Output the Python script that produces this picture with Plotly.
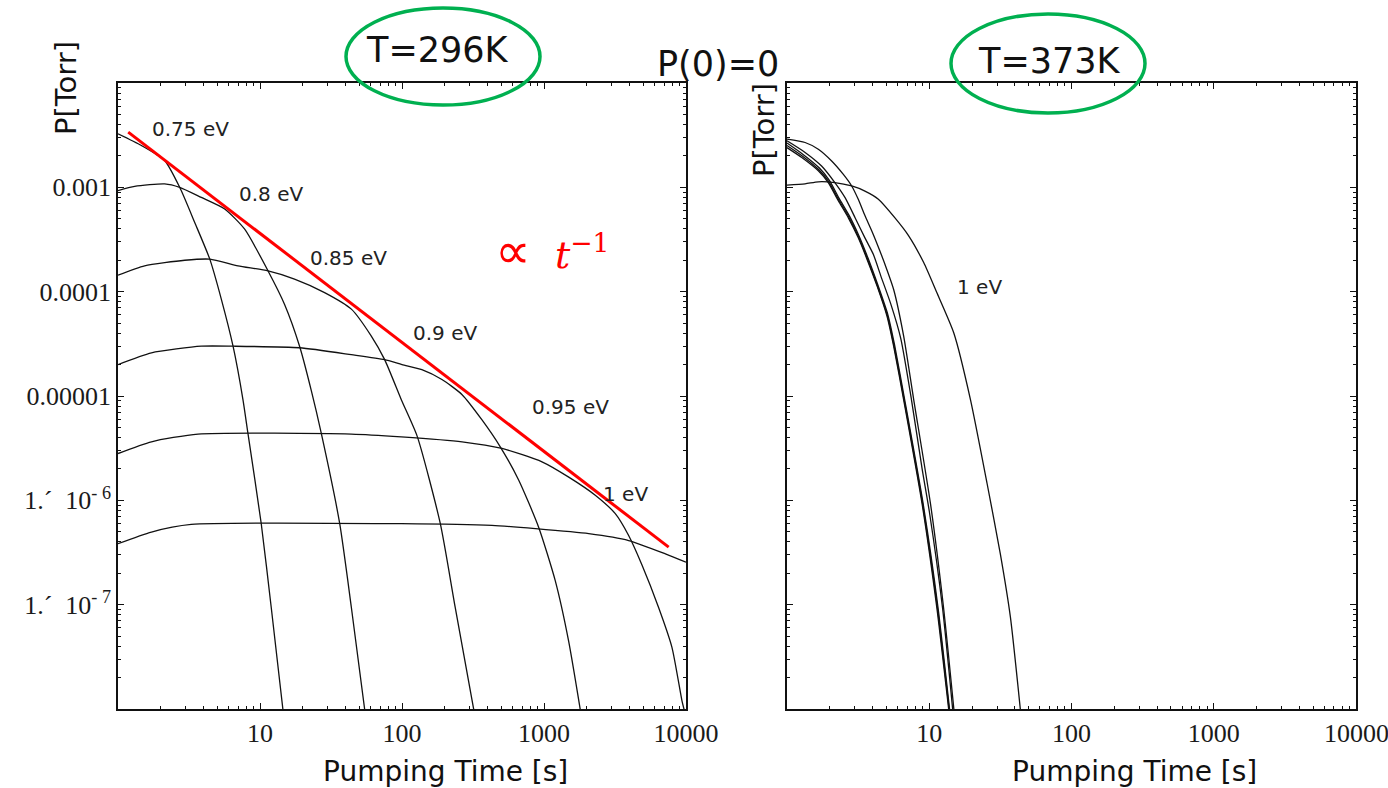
import numpy as np
import plotly.graph_objects as go

# ---------------- T = 296 K : pressure vs pumping time ----------------
t296_075 = [1.0, 1.46, 2.13, 2.72, 3.47, 4.43, 5.35, 6.46, 7.59, 8.22, 10.2, 12.0, 14.5]
p296_075 = [3.26e-3, 2.52e-3, 1.81e-3, 1.0e-3, 4.6e-4, 2.05e-4, 8.4e-5, 3.0e-5, 9.2e-6, 4.4e-6, 6.0e-7, 9.4e-8, 9.9e-9]

t296_080 = [1.0, 1.31, 2.13, 2.72, 3.86, 5.64, 7.80, 11.4, 14.9, 19.0, 23.0, 27.0, 36.4, 44.0, 54.6]
p296_080 = [9.3e-4, 1.02e-3, 1.08e-3, 1.0e-3, 8.0e-4, 6.2e-4, 3.97e-4, 1.58e-4, 7.55e-5, 3.0e-5, 1.12e-5, 4.4e-6, 6.0e-7, 9.4e-8, 9.9e-9]

t296_085 = [1.0, 1.54, 2.95, 4.43, 7.0, 11.4, 17.5, 28.5, 44.0, 60.8, 75.5, 98.9, 128, 186, 237, 320]
p296_085 = [1.44e-4, 1.77e-4, 2.0e-4, 2.05e-4, 1.77e-4, 1.58e-4, 1.32e-4, 9.8e-5, 6.8e-5, 3.75e-5, 2.23e-5, 9.2e-6, 4.1e-6, 6.0e-7, 9.4e-8, 9.9e-9]

t296_090 = [1.0, 1.72, 3.86, 6.46, 19.0, 44.0, 75.5, 100, 138, 191, 265, 366, 492, 664, 918, 1200, 1490, 1800]
p296_090 = [2.0e-5, 2.59e-5, 3.0e-5, 3.0e-5, 2.9e-5, 2.49e-5, 2.23e-5, 2.0e-5, 1.79e-5, 1.44e-5, 1.03e-5, 5.9e-6, 3.26e-6, 1.56e-6, 5.5e-7, 1.7e-7, 4.5e-8, 9.9e-9]

t296_095 = [1.0, 1.72, 3.66, 44.0, 98.9, 265, 506, 968, 1493, 2296, 3177, 3945, 4898, 6412, 7962, 9376, 9770]
p296_095 = [2.81e-6, 3.64e-6, 4.32e-6, 4.32e-6, 4.06e-6, 3.64e-6, 3.14e-6, 2.34e-6, 1.67e-6, 1.12e-6, 7.45e-7, 4.6e-7, 2.4e-7, 9.4e-8, 3.9e-8, 1.19e-8, 9.5e-9]

t296_100 = [1.0, 1.72, 3.28, 98.9, 430, 869, 2065, 3945, 7161, 10000]
p296_100 = [3.84e-7, 4.97e-7, 5.87e-7, 5.97e-7, 5.75e-7, 5.35e-7, 4.79e-7, 4.12e-7, 3.07e-7, 2.55e-7]

# t^-1 guide line
t_fit = [1.18, 7550]
p_fit = [3.38e-3, 3.56e-7]

# ---------------- T = 373 K ----------------
t373_075 = [1.0, 1.27, 1.66, 1.95, 2.30, 2.70, 3.17, 3.65, 4.30, 5.05, 5.62, 6.61, 8.89, 11.3, 13.7]
p373_075 = [2.40e-3, 1.93e-3, 1.44e-3, 1.11e-3, 7.4e-4, 5.1e-4, 3.28e-4, 2.05e-4, 1.13e-4, 5.8e-5, 3.0e-5, 9.2e-6, 9.4e-7, 9.4e-8, 9.9e-9]

t373_080 = [1.0, 1.28, 1.67, 1.96, 2.31, 2.72, 3.19, 3.67, 4.32, 5.08, 5.65, 6.65, 8.95, 11.4, 13.8]
p373_080 = [2.52e-3, 2.0e-3, 1.48e-3, 1.14e-3, 7.6e-4, 5.2e-4, 3.33e-4, 2.08e-4, 1.14e-4, 5.9e-5, 3.05e-5, 9.3e-6, 9.5e-7, 9.5e-8, 9.9e-9]

t373_085 = [1.0, 1.29, 1.69, 1.98, 2.33, 2.75, 3.22, 3.71, 4.36, 5.12, 5.70, 6.70, 9.02, 11.5, 13.9]
p373_085 = [2.66e-3, 2.08e-3, 1.53e-3, 1.17e-3, 7.8e-4, 5.3e-4, 3.38e-4, 2.1e-4, 1.15e-4, 6.0e-5, 3.1e-5, 9.4e-6, 9.6e-7, 9.6e-8, 9.9e-9]

t373_090 = [1.0, 1.34, 1.75, 2.17, 2.56, 3.01, 3.53, 4.05, 4.57, 5.37, 6.31, 7.50, 8.91, 10.0, 12.4, 14.6]
p373_090 = [2.79e-3, 2.16e-3, 1.60e-3, 1.11e-3, 7.96e-4, 5.12e-4, 3.28e-4, 2.27e-4, 1.41e-4, 7.6e-5, 3.55e-5, 9.2e-6, 2.0e-6, 7.9e-7, 9.3e-8, 1.0e-8]

t373_095 = [1.0, 1.34, 1.66, 2.06, 2.49, 2.85, 3.17, 3.53, 3.98, 4.47, 5.01, 5.62, 6.61, 7.78, 10.2, 12.6, 14.9]
p373_095 = [2.90e-3, 2.69e-3, 2.32e-3, 1.79e-3, 1.33e-3, 1.03e-3, 7.67e-4, 5.37e-4, 3.72e-4, 2.51e-4, 1.66e-4, 1.05e-4, 3.75e-5, 9.2e-6, 9.3e-7, 9.4e-8, 9.9e-9]

t373_100 = [1.0, 1.34, 1.66, 2.17, 2.85, 3.53, 4.39, 5.74, 7.13, 9.14, 11.3, 14.9, 19.5, 25.5, 31.6, 37.2, 43.7]
p373_100 = [1.05e-3, 1.08e-3, 1.13e-3, 1.11e-3, 1.03e-3, 9.2e-4, 7.7e-4, 5.1e-4, 3.47e-4, 1.9e-4, 9.8e-5, 4.0e-5, 9.2e-6, 1.45e-6, 3.07e-7, 7.6e-8, 9.9e-9]

# curve labels: (text, t, P)
labels_296 = [("0.75 eV", 3.25, 3.63e-3), ("0.8 eV", 12.0, 8.6e-4), ("0.85 eV", 41.7, 2.12e-4),
              ("0.9 eV", 202, 4.04e-5), ("0.95 eV", 1531, 7.9e-6), ("1 eV", 3741, 1.16e-6)]
labels_373 = [("1 eV", 22.7, 1.1e-4)]

y_ticks = [1e-8, 1e-7, 1e-6, 1e-5, 1e-4, 1e-3, 1e-2]
y_ticktext = ["", "1.´\u00a0\u00a010<sup>-\u00a07</sup>", "1.´\u00a0\u00a010<sup>-\u00a06</sup>",
              "0.00001", "0.0001", "0.001", ""]
x_ticks = [1, 10, 100, 1000, 10000]
x_ticktext = ["", "10", "100", "1000", "10000"]
x2_ticktext = ["", "10", "100", "1000", ""]   # last label is placed as an annotation at the page edge

# ---------------- figure ----------------
W, H = 1388, 788


def fx(px):
    return px / W


def fy(py):
    return 1 - py / H


fig = go.Figure()

curves_296 = [(t296_075, p296_075), (t296_080, p296_080), (t296_085, p296_085),
              (t296_090, p296_090), (t296_095, p296_095), (t296_100, p296_100)]
curves_373 = [(t373_075, p373_075), (t373_080, p373_080), (t373_085, p373_085),
              (t373_090, p373_090), (t373_095, p373_095), (t373_100, p373_100)]

curve_line = dict(color="#111", width=1.3, shape="spline", smoothing=0.6)
for t, p in curves_296:
    fig.add_trace(go.Scatter(x=t, y=p, mode="lines", line=curve_line,
                             xaxis="x", yaxis="y", hoverinfo="skip"))
fig.add_trace(go.Scatter(x=t_fit, y=p_fit, mode="lines", line=dict(color="#ff0000", width=3),
                         xaxis="x", yaxis="y", hoverinfo="skip"))
for t, p in curves_373:
    fig.add_trace(go.Scatter(x=t, y=p, mode="lines", line=curve_line,
                             xaxis="x2", yaxis="y2", hoverinfo="skip"))

minor_x = [m * 10 ** e for e in range(0, 4) for m in range(2, 10)]
minor_y = [m * 10.0 ** e for e in range(-8, -2) for m in range(2, 10)]

tick_font = dict(family="Liberation Serif", size=26, color="#1a1a1a")
frame = dict(type="log", showline=True, linecolor="#111", linewidth=1.6, mirror="allticks",
             ticks="inside", ticklen=6, tickwidth=1.2, tickcolor="#111", showgrid=False,
             zeroline=False, tickfont=tick_font, automargin=False)

x_minor = dict(ticks="inside", ticklen=3, tickwidth=1, tickcolor="#111", tickvals=minor_x, showgrid=False)
x_common = dict(frame, range=[0, 4], tickvals=x_ticks, ticklabelstandoff=0, minor=x_minor)
y_common = dict(frame, range=[-8, -2], tickvals=y_ticks, ticktext=y_ticktext,
                minor=dict(ticks="inside", ticklen=3, tickwidth=1, tickcolor="#111",
                           tickvals=minor_y, showgrid=False))

L0, L1, R0, R1, TOP, BOT = 118, 686, 787, 1356, 83, 709

fig.update_layout(
    width=W, height=H, autosize=False, margin=dict(l=0, r=0, t=0, b=0, pad=0),
    showlegend=False, paper_bgcolor="white", plot_bgcolor="white",
    xaxis=dict(x_common, ticktext=x_ticktext, domain=[fx(L0), fx(L1)], anchor="y"),
    yaxis=dict(y_common, domain=[fy(BOT), fy(TOP)], anchor="x", ticklabelstandoff=0),
    xaxis2=dict(x_common, ticktext=x2_ticktext, domain=[fx(R0), fx(R1)], anchor="y2"),
    yaxis2=dict(y_common, domain=[fy(BOT), fy(TOP)], anchor="x2", showticklabels=False),
)

ann = []
sans = "DejaVu Sans"
for text, t, p in labels_296:
    ann.append(dict(text=text, x=np.log10(t), y=np.log10(p), xref="x", yref="y", showarrow=False,
                    font=dict(family=sans, size=20, color="#222")))
for text, t, p in labels_373:
    ann.append(dict(text=text, x=np.log10(t), y=np.log10(p), xref="x2", yref="y2", showarrow=False,
                    font=dict(family=sans, size=20, color="#222")))

# last tick label of the right panel, kept inside the page
ann.append(dict(text=x_ticktext[-1], x=np.log10(x_ticks[-1]), y=fy(733), xref="x2", yref="paper",
                showarrow=False, xanchor="center", yanchor="middle", font=tick_font))

ann.append(dict(text="<span style='font-family:DejaVu Sans;font-size:50px'>∝</span>\u00a0\u00a0<i>t</i><sup>−1</sup>",
                x=np.log10(1138), y=np.log10(2.46e-4), xref="x", yref="y",
                showarrow=False, font=dict(family="DejaVu Serif", size=38, color="#ff0000")))

# panel titles and axis labels
for text, X, Y, size in [("T=296K", 437, 50, 35), ("P(0)=0", 718, 64, 35), ("T=373K", 1049, 61, 35),
                         ("Pumping Time [s]", 445, 771, 28), ("Pumping Time [s]", 1134, 771, 28)]:
    ann.append(dict(text=text, x=fx(X), y=fy(Y), xref="paper", yref="paper", showarrow=False,
                    xanchor="center", yanchor="middle", font=dict(family=sans, size=size, color="#111")))
for X, Y in [(66, 88), (764, 130)]:
    ann.append(dict(text="P[Torr]", x=fx(X), y=fy(Y), xref="paper", yref="paper", showarrow=False,
                    textangle=-90, xanchor="center", yanchor="middle",
                    font=dict(family=sans, size=29, color="#111")))
fig.update_layout(annotations=ann)

# green ellipses around the temperatures
shapes = []
for x0, x1, y0, y1 in [(346, 540, 8, 105), (951, 1145, 14, 113)]:
    shapes.append(dict(type="circle", xref="paper", yref="paper", x0=fx(x0), x1=fx(x1),
                       y0=fy(y1), y1=fy(y0), line=dict(color="#00b050", width=3.5)))
fig.update_layout(shapes=shapes)

page_style = ("document.documentElement.style.margin='0';document.body.style.margin='0';"
              "document.documentElement.style.overflow='hidden';document.body.style.overflow='hidden';")
fig.write_html("out.html", config={"responsive": False}, post_script=page_style)
